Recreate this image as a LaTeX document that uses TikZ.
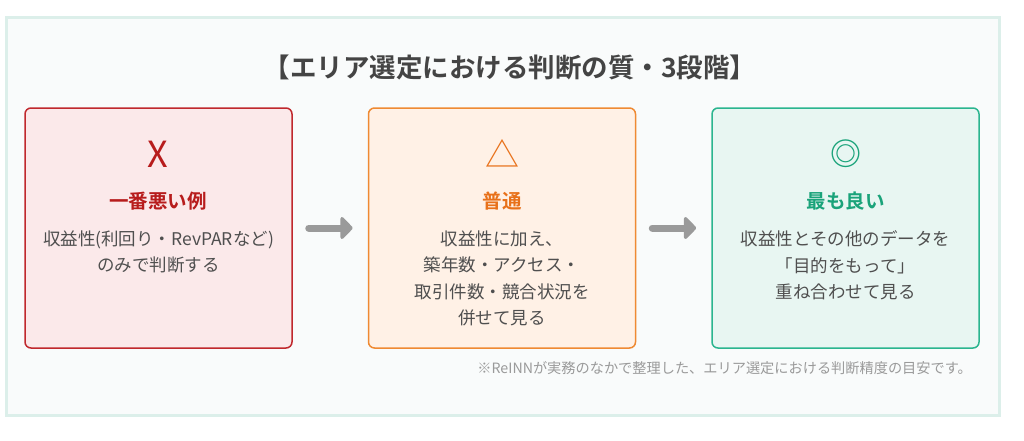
\documentclass[tikz,border=0pt]{standalone}
\usepackage{fontspec}
\setmainfont{Noto Sans CJK JP}[BoldFont={* Bold}]
\usetikzlibrary{arrows.meta}
\definecolor{framebd}{HTML}{DCEFEA}
\definecolor{framebg}{HTML}{F9FBFB}
\definecolor{redbd}{HTML}{C0282D}
\definecolor{redbg}{HTML}{FBE9EA}
\definecolor{redtx}{HTML}{B71C1C}
\definecolor{orgbd}{HTML}{EF8A33}
\definecolor{orgbg}{HTML}{FFF1E6}
\definecolor{orgtx}{HTML}{E8711A}
\definecolor{grnbd}{HTML}{2BB58F}
\definecolor{grnbg}{HTML}{E8F6F2}
\definecolor{grntx}{HTML}{1AA37A}
\definecolor{bodytx}{HTML}{4F4F4F}
\definecolor{titletx}{HTML}{444444}
\definecolor{notetx}{HTML}{9A9A9A}
\definecolor{arrgray}{HTML}{9A9A9A}
\tikzset{
  card/.style={draw, line width=1.5pt, rounded corners=6pt, minimum width=267pt, minimum height=240pt, inner sep=0pt},
  symb/.style={inner sep=0pt, font=\fontsize{34}{34}\selectfont},
  head/.style={inner sep=0pt, font=\fontsize{19.5}{22}\selectfont\bfseries},
  body/.style={inner sep=0pt, anchor=north, align=center, text=bodytx, font=\fontsize{17.5}{26.5}\selectfont},
  arr/.style={draw=arrgray, line width=7pt, line cap=round, -{Triangle[length=13pt,width=26pt,round]}},
}
\begin{document}
\begin{tikzpicture}[x=1pt,y=-1pt]
\useasboundingbox (0,0) rectangle (1024,440);
\fill[white] (0,0) rectangle (1024,440);
\draw[draw=framebd, fill=framebg, line width=3pt] (6,17) rectangle (999,415);
\node[inner sep=0pt, text=titletx, font=\fontsize{26.5}{28}\selectfont\bfseries] (title) at (510,67) {【エリア選定における判断の質・3段階】};

\node[card, draw=redbd, fill=redbg] (b1) at (158.5,228) {};
\node[card, draw=orgbd, fill=orgbg] (b2) at (502,228) {};
\node[card, draw=grnbd, fill=grnbg] (b3) at (845.5,228) {};

\node[symb, text=redtx, font=\fontsize{36}{36}\selectfont] (s1) at (158,154) {X};
\node[symb, text=orgtx] (s2) at (502,153) {△};
\node[symb, text=grntx, font=\fontsize{31}{31}\selectfont\bfseries] (s3) at (845.5,154) {◎};

\node[head, text=redtx] (h1) at (158,201) {一番悪い例};
\node[head, text=orgtx] (h2) at (502,201) {普通};
\node[head, text=grntx] (h3) at (845.5,201) {最も良い};

\node[body] (t1) at (158.5,230.5) {収益性(利回り・RevPARなど)\\のみで判断する};
\node[body] (t2) at (502,230.5) {収益性に加え、\\築年数・アクセス・\\取引件数・競合状況を\\併せて見る};
\node[body] (t3) at (845.5,230.5) {収益性とその他のデータを\\「目的をもって」\\重ね合わせて見る};

\draw[arr] ([xshift=16pt]b1.east) -- ([xshift=-15pt]b2.west);
\draw[arr] ([xshift=16pt]b2.east) -- ([xshift=-15pt]b3.west);

\node[inner sep=0pt, anchor=east, text=notetx, font=\fontsize{14.2}{16}\selectfont] (note) at (972,368) {※ReINNが実務のなかで整理した、エリア選定における判断精度の目安です。};
\end{tikzpicture}
\end{document}
